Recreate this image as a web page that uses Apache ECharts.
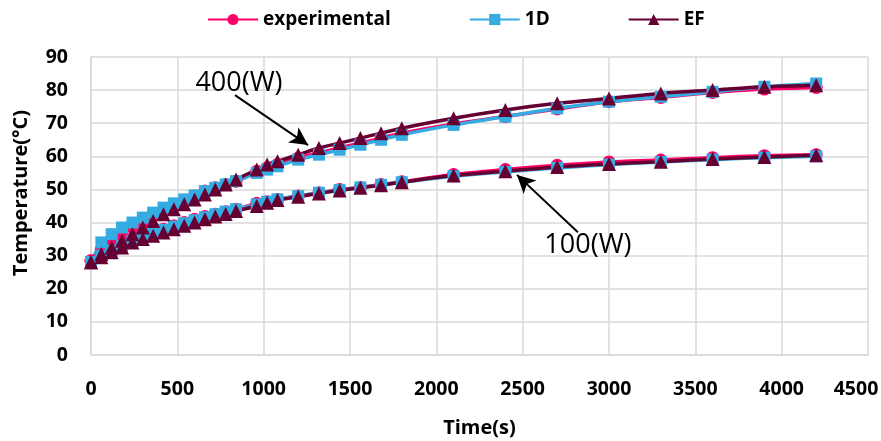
<!DOCTYPE html>
<html>
<head>
<meta charset="utf-8">
<script src="https://cdn.jsdelivr.net/npm/echarts@6/dist/echarts.min.js"></script>
<style>
  html, body { margin: 0; padding: 0; background: #fff; }
  #chart { width: 881px; height: 441px; }
</style>
</head>
<body>
<div id="chart"></div>
<script>
// time points (s)
const times = [0, 60, 120, 180, 240, 300, 360, 420, 480, 540, 600, 660, 720, 780, 840,
  960, 1020, 1080, 1200, 1320, 1440, 1560, 1680, 1800, 2100, 2400, 2700, 3000, 3300, 3600, 3900, 4200]

// 400 W
const exp400 = [28.5, 32, 34.5, 36.5, 38.5, 40, 42, 43.5, 45, 46.5, 48, 49.5, 50.5, 51.5, 52.5,
  55.5, 56.5, 57.5, 59.5, 61, 62.5, 64, 65.5, 67, 69.8, 72, 74.3, 76.5, 77.8, 79.3, 80.3, 80.8]
const oneD400 = [28, 34, 36.5, 38.5, 40, 41.5, 43, 44.5, 45.8, 47, 48.2, 49.5, 50.5, 51.5, 52.5,
  55, 56, 57, 59, 60.5, 62, 63.5, 65, 66.5, 69.5, 72, 74.5, 76.5, 78, 79.5, 81, 82]
const ef400 = [28, 30.5, 32.5, 34.5, 36.5, 38.5, 40.5, 42.5, 44, 45.5, 47, 48.5, 50, 51.5, 53,
  56, 57.5, 58.5, 60.5, 62.5, 64, 65.5, 67, 68.5, 71.5, 74, 76, 77.5, 79, 80, 81, 81.5]

// 100 W
const exp100 = [28.5, 30.5, 32, 33.5, 35, 36, 37, 38, 39, 40, 41, 41.8, 42.5, 43.3, 44,
  45.8, 46.3, 47, 48, 49, 50, 50.6, 51.5, 52.3, 54.5, 56, 57.3, 58.3, 58.9, 59.6, 60.2, 60.5]
const oneD100 = [28, 30, 31.5, 33, 34.5, 35.7, 36.8, 37.8, 38.8, 39.8, 40.7, 41.6, 42.5, 43.3, 44,
  45.5, 46.3, 47, 48, 49, 49.8, 50.6, 51.4, 52.2, 54, 55.3, 56.5, 57.5, 58.3, 59, 59.6, 60]
const ef100 = [28, 29.5, 31, 32.5, 34, 35, 36, 37, 38, 39, 40, 41, 41.8, 42.6, 43.5,
  45, 46, 46.8, 47.8, 48.8, 49.7, 50.5, 51.3, 52.2, 54.2, 55.5, 56.8, 57.7, 58.4, 59.2, 59.8, 60.3]

const xTicks = [0, 500, 1000, 1500, 2000, 2500, 3000, 3500, 4000, 4500]
const yTicks = [0, 10, 20, 30, 40, 50, 60, 70, 80, 90]

// annotations: [label, textPos, arrowFrom, arrowTo]
const notes = [
  ['400(W)', [857, 82.1], [834, 78.5], [1257, 63.4]],
  ['100(W)', [2878, 33.2], [2820, 37.1], [2467, 54.4]]
]

const pair = (ys) => times.map((t, i) => [t, ys[i]])

const styles = {
  experimental: { color: '#FF0066', symbol: 'circle', size: 13 },
  '1D': { color: '#35ACE1', symbol: 'rect', size: 12 },
  EF: { color: '#660033', symbol: 'triangle', size: 14 }
}

const mkSeries = (name, ys, extra) => Object.assign({
  name,
  type: 'line',
  smooth: 0.3,
  data: pair(ys),
  symbol: styles[name].symbol,
  symbolSize: styles[name].size,
  lineStyle: { width: 3.5, color: styles[name].color },
  itemStyle: { color: styles[name].color },
  z: 2
}, extra || {})

const font = "'Open Sans', 'DejaVu Sans', sans-serif"
const lastX = xTicks[xTicks.length - 1]

const chart = echarts.init(document.getElementById('chart'), null, { renderer: 'canvas' })

chart.setOption({
  animation: false,
  backgroundColor: '#fff',
  textStyle: { fontFamily: font },
  legend: {
    data: ['experimental', '1D', 'EF'],
    left: 202,
    top: 5,
    itemWidth: 50,
    itemHeight: 14,
    itemGap: 78,
    textStyle: { fontFamily: font, fontWeight: 'bold', fontSize: 19, color: '#000' }
  },
  grid: { left: 91, right: 13, top: 57, bottom: 86, outerBoundsMode: 'none', containLabel: false },
  xAxis: {
    type: 'value',
    min: 0, max: 4500, interval: 500,
    name: 'Time(s)',
    nameLocation: 'middle',
    nameGap: 63,
    nameTextStyle: { fontFamily: font, fontWeight: 'bold', fontSize: 20, color: '#000' },
    axisLine: { show: true, lineStyle: { color: '#D9D9D9', width: 1.5 } },
    axisTick: { show: false },
    axisLabel: {
      margin: 24, color: '#000', fontWeight: 'bold', fontSize: 19.5, fontFamily: font,
      // Excel pulls the last label inside the chart area
      formatter: (v) => (v === lastX ? '{last|' + v + '}' : String(v)),
      rich: { last: { fontWeight: 'bold', fontSize: 19.5, fontFamily: font, color: '#000', padding: [0, 24, 0, 0] } },
      customValues: xTicks
    },
    splitLine: { show: true, lineStyle: { color: '#D9D9D9', width: 1.5 } }
  },
  yAxis: {
    type: 'value',
    min: 0, max: 90, interval: 10,
    name: 'Temperature(°C)',
    nameLocation: 'middle',
    nameGap: 60,
    nameTextStyle: { fontFamily: font, fontWeight: 'bold', fontSize: 20, color: '#000', padding: [0, 0, 0, 26] },
    axisLine: { show: true, lineStyle: { color: '#D9D9D9', width: 1.5 } },
    axisTick: { show: false },
    axisLabel: {
      margin: 23, color: '#000', fontWeight: 'bold', fontSize: 19.5, fontFamily: font,
      formatter: (v) => String(v),
      customValues: yTicks
    },
    splitLine: { show: true, lineStyle: { color: '#D9D9D9', width: 1.5 } }
  },
  series: [
    mkSeries('experimental', exp100),
    mkSeries('experimental', exp400),
    mkSeries('1D', oneD100),
    mkSeries('1D', oneD400),
    mkSeries('EF', ef100),
    mkSeries('EF', ef400, {
      markLine: {
        silent: true,
        animation: false,
        symbol: ['none', 'arrow'],
        symbolSize: [14, 18],
        lineStyle: { color: '#000', width: 2, type: 'solid' },
        label: { show: false },
        data: notes.map((n) => [{ coord: n[2] }, { coord: n[3] }])
      },
      markPoint: {
        silent: true,
        symbol: 'circle',
        symbolSize: 0,
        label: {
          show: true,
          position: 'inside',
          color: '#000',
          fontFamily: font,
          fontSize: 27,
          formatter: (p) => p.name
        },
        data: notes.map((n) => ({ name: n[0], coord: n[1] }))
      }
    })
  ]
})
</script>
</body>
</html>
